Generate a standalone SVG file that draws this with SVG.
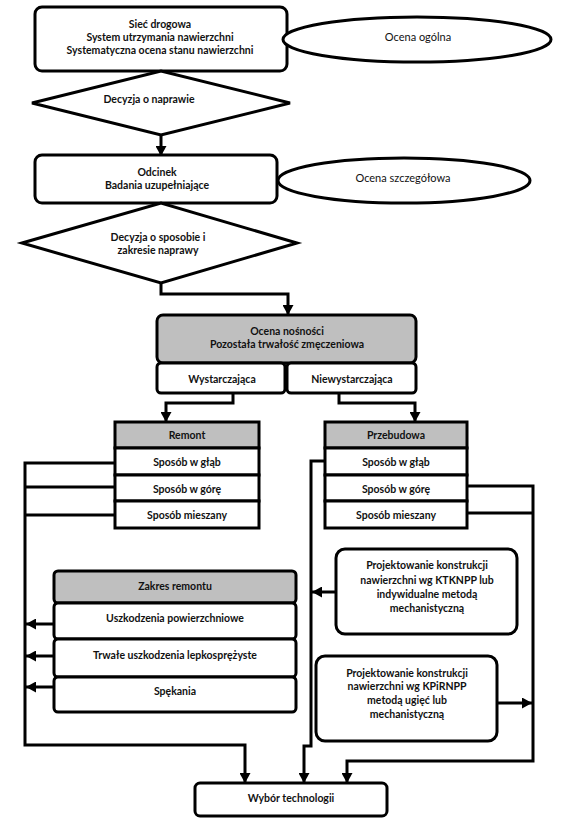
<svg xmlns="http://www.w3.org/2000/svg" width="563" height="820" viewBox="0 0 563 820">
<defs>
<marker id="ah" markerUnits="userSpaceOnUse" markerWidth="11" markerHeight="11" refX="10" refY="5.5" orient="auto">
<path d="M0,0 L10,5.5 L0,11 Z" fill="#000"/>
</marker>
<style>
.s{fill:#fff;stroke:#000;stroke-width:3}
.g{fill:#bfbfbf;stroke:#000;stroke-width:3}
.t{font-family:Lato,"Liberation Sans",sans-serif;font-size:10.5px;font-weight:bold;fill:#111;text-anchor:middle;dominant-baseline:central}
.e{font-family:Lato,"Liberation Sans",sans-serif;font-size:11px;fill:#111;text-anchor:middle;dominant-baseline:central}
.c{fill:none;stroke:#000;stroke-width:3}
.a{fill:none;stroke:#000;stroke-width:3;marker-end:url(#ah)}
</style>
</defs>
<rect width="563" height="820" fill="#fff"/>
<g id="connectors">
<path class="a" d="M161,135 V156"/>
<path class="a" d="M161,283 V294 H288 V315"/>
<path class="a" d="M233,393 V403 H166 V422"/>
<path class="a" d="M339,393 V403 H415 V422"/>
<path class="a" d="M114,463 H25 V745 H245 V783"/>
<path class="c" d="M114,487 H25"/>
<path class="c" d="M114,515 H25"/>
<path class="a" d="M325,461 H311 V746 H304 V783"/>
<path class="a" d="M467,486 H533 V761 H347 V783"/>
<path class="c" d="M467,513 H533"/>
<path class="a" d="M54,624 H26"/>
<path class="a" d="M54,656 H26"/>
<path class="a" d="M54,687 H26"/>
<path class="a" d="M336,592 H312"/>
<path class="a" d="M497,703 H532"/>
</g>
<g id="siec">
<rect class="s" x="35" y="7" width="252" height="64" rx="7"/>
<text class="t" x="160" y="24">Sieć drogowa</text>
<text class="t" x="160" y="37">System utrzymania nawierzchni</text>
<text class="t" x="160" y="50">Systematyczna ocena stanu nawierzchni</text>
</g>
<g id="ocena-ogolna">
<ellipse class="s" cx="417" cy="39.5" rx="134" ry="22.5"/>
<text class="e" x="418" y="36">Ocena ogólna</text>
</g>
<g id="decyzja1">
<polygon class="s" points="32,103 161,71 290,103 161,135"/>
<text class="t" x="149" y="99">Decyzja o naprawie</text>
</g>
<g id="odcinek">
<rect class="s" x="35" y="155" width="242" height="48" rx="7"/>
<text class="t" x="157" y="172">Odcinek</text>
<text class="t" x="157" y="185">Badania uzupełniające</text>
</g>
<g id="ocena-szczegolowa">
<ellipse class="s" cx="404" cy="180.5" rx="126" ry="22.5"/>
<text class="e" x="403" y="177">Ocena szczegółowa</text>
</g>
<g id="decyzja2">
<polygon class="s" points="22,243 161,203 297,243 161,283"/>
<text class="t" x="158" y="237">Decyzja o sposobie i</text>
<text class="t" x="158" y="250">zakresie naprawy</text>
</g>
<g id="ocena-nosnosci">
<rect class="g" x="157" y="315" width="259" height="48" rx="6"/>
<text class="t" x="287" y="331">Ocena nośności</text>
<text class="t" x="287" y="344">Pozostała trwałość zmęczeniowa</text>
</g>
<g id="wystarczajaca">
<rect class="s" x="157" y="363" width="128" height="30" rx="4"/>
<text class="t" x="222" y="379">Wystarczająca</text>
</g>
<g id="niewystarczajaca">
<rect class="s" x="287" y="363" width="129" height="30" rx="4"/>
<text class="t" x="352" y="379">Niewystarczająca</text>
</g>
<g id="remont">
<rect class="g" x="115" y="422" width="144" height="26"/>
<rect class="s" x="115" y="448" width="144" height="27"/>
<rect class="s" x="115" y="475" width="144" height="26"/>
<rect class="s" x="115" y="501" width="144" height="27"/>
<text class="t" x="187" y="435">Remont</text>
<text class="t" x="187" y="462">Sposób w głąb</text>
<text class="t" x="187" y="489">Sposób w górę</text>
<text class="t" x="187" y="515">Sposób mieszany</text>
</g>
<g id="przebudowa">
<rect class="g" x="325" y="422" width="142" height="26"/>
<rect class="s" x="325" y="448" width="142" height="27"/>
<rect class="s" x="325" y="475" width="142" height="26"/>
<rect class="s" x="325" y="501" width="142" height="27"/>
<text class="t" x="396" y="435">Przebudowa</text>
<text class="t" x="396" y="462">Sposób w głąb</text>
<text class="t" x="396" y="489">Sposób w górę</text>
<text class="t" x="396" y="515">Sposób mieszany</text>
</g>
<g id="zakres-remontu">
<rect class="g" x="54" y="571" width="242" height="32" rx="4"/>
<rect class="s" x="54" y="603" width="242" height="36" rx="4"/>
<rect class="s" x="54" y="639" width="242" height="38" rx="4"/>
<rect class="s" x="54" y="677" width="242" height="35" rx="4"/>
<text class="t" x="175" y="586">Zakres remontu</text>
<text class="t" x="175" y="618">Uszkodzenia powierzchniowe</text>
<text class="t" x="175" y="655">Trwałe uszkodzenia lepkosprężyste</text>
<text class="t" x="175" y="691">Spękania</text>
</g>
<g id="projekt-ktknpp">
<rect class="s" x="336" y="549" width="181" height="85" rx="9"/>
<text class="t" x="427" y="565">Projektowanie konstrukcji</text>
<text class="t" x="427" y="580">nawierzchni wg KTKNPP lub</text>
<text class="t" x="427" y="594">indywidualne metodą</text>
<text class="t" x="427" y="608">mechanistyczną</text>
</g>
<g id="projekt-kpirnpp">
<rect class="s" x="316" y="656" width="181" height="85" rx="9"/>
<text class="t" x="407" y="673">Projektowanie konstrukcji</text>
<text class="t" x="407" y="686">nawierzchni wg KPiRNPP</text>
<text class="t" x="407" y="700">metodą ugięć lub</text>
<text class="t" x="407" y="714">mechanistyczną</text>
</g>
<g id="wybor">
<rect class="s" x="195" y="783" width="192" height="33" rx="5"/>
<text class="t" x="291" y="798">Wybór technologii</text>
</g>
</svg>
